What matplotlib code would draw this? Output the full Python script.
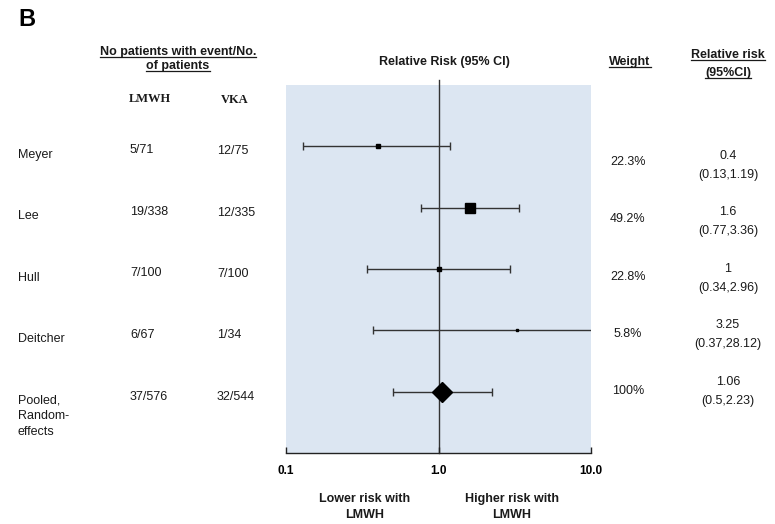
import matplotlib
matplotlib.use("Agg")
import matplotlib.pyplot as plt
from matplotlib.lines import Line2D

# data
studies = ["Meyer", "Lee", "Hull", "Deitcher", "Pooled,\nRandom-\neffects"]
lmwh_events = ["5/71", "19/338", "7/100", "6/67", "37/576"]
vka_events = ["12/75", "12/335", "7/100", "1/34", "32/544"]
rr = [0.4, 1.6, 1.0, 3.25, 1.06]
ci_low = [0.13, 0.77, 0.34, 0.37, 0.5]
ci_high = [1.19, 3.36, 2.96, 28.12, 2.23]
weights = [22.3, 49.2, 22.8, 5.8, 100]
xticks = [0.1, 1.0, 10.0]

W, H = 775, 524
FONT = "Liberation Sans"
TXT = "#1a1a1a"


def px(x, y):
    # pixel position (from top-left) -> figure fraction
    return x / W, 1 - y / H


fig = plt.figure(figsize=(W / 100, H / 100), dpi=100)
plt.rcParams["font.family"] = [FONT, "DejaVu Sans"]

# forest panel
l, b = px(286, 453)
r, t = px(591, 85)
ax = fig.add_axes([l, b, r - l, t - b])
ax.set_facecolor("#dce6f2")
ax.set_xscale("log")
ax.set_xlim(0.1, 10)
ax.set_ylim(5, -1)
for s in ["left", "right", "top"]:
    ax.spines[s].set_visible(False)
ax.spines["bottom"].set_color("#222222")
ax.spines["bottom"].set_linewidth(1)
ax.set_yticks([])
ax.set_xticks(xticks)
ax.set_xticklabels([f"{v:.1f}" for v in xticks], fontweight="bold", fontsize=8.5)
ax.minorticks_off()
ax.tick_params(axis="x", direction="in", length=4, width=1, pad=9, color="#222222")

ax.plot([1, 1], [5, -1.08], color="#333333", lw=1, clip_on=False, zorder=1)

n = len(studies)
for i in range(n):
    ax.errorbar(rr[i], i, xerr=[[rr[i] - ci_low[i]], [ci_high[i] - rr[i]]],
                fmt="none", ecolor="#333333", elinewidth=1, capsize=3, capthick=1, zorder=2)
    if i < n - 1:
        ax.plot(rr[i], i, marker="s", color="black",
                markersize=max(weights[i] * 0.146, 1.5), zorder=3)
    else:
        ax.plot(rr[i], i, marker="D", color="black", markersize=10.5, zorder=3)

# headers
under = []
fig.text(*px(18, 19), "B", fontsize=17, fontweight="bold", ha="left", va="center")
under.append(fig.text(*px(178, 52), "No patients with event/No.", fontsize=9,
                      fontweight="bold", ha="center", va="center", color=TXT))
under.append(fig.text(*px(178, 66), "of patients", fontsize=9,
                      fontweight="bold", ha="center", va="center", color=TXT))
fig.text(*px(150, 99), "LMWH", fontsize=9, fontweight="bold", ha="center",
         va="center", family="Liberation Serif", color=TXT)
fig.text(*px(235, 100), "VKA", fontsize=9, fontweight="bold", ha="center",
         va="center", family="Liberation Serif", color=TXT)
fig.text(*px(444, 62), "Relative Risk (95% CI)", fontsize=9, fontweight="bold",
         ha="center", va="center", color=TXT)
under.append(fig.text(*px(630, 62), "Weight", fontsize=9, fontweight="bold",
                      ha="center", va="center", color=TXT))
under.append(fig.text(*px(728, 55), "Relative risk", fontsize=9, fontweight="bold",
                      ha="center", va="center", color=TXT))
under.append(fig.text(*px(728, 73), "(95%CI)", fontsize=9, fontweight="bold",
                      ha="center", va="center", color=TXT))

# left table
for i in range(n):
    fig.text(*px(18, 149 + 61.3 * i), studies[i], fontsize=9, ha="left", va="top",
             color=TXT, linespacing=1.42)
    fig.text(*px(130, 150 + 61.7 * i), lmwh_events[i], fontsize=9, ha="left",
             va="center", color=TXT)
    fig.text(*px(217, 151 + 61.5 * i), vka_events[i], fontsize=9, ha="left",
             va="center", color=TXT)

# right table
for i in range(n):
    fig.text(*px(628, 162 + 57.3 * i), f"{weights[i]:g}%", fontsize=9,
             ha="center", va="center", color=TXT)
    fig.text(*px(728, 156 + 56.4 * i), f"{rr[i]:g}", fontsize=9,
             ha="center", va="center", color=TXT)
    fig.text(*px(728, 175 + 56.4 * i), f"({ci_low[i]:g},{ci_high[i]:g})",
             fontsize=9, ha="center", va="center", color=TXT)

# bottom labels
fig.text(*px(365, 507), "Lower risk with\nLMWH", fontsize=9, fontweight="bold",
         ha="center", va="center", color=TXT, linespacing=1.45)
fig.text(*px(512, 507), "Higher risk with\nLMWH", fontsize=9, fontweight="bold",
         ha="center", va="center", color=TXT, linespacing=1.45)

# underline the column headers
fig.canvas.draw()
rend = fig.canvas.get_renderer()
for txt in under:
    bb = txt.get_window_extent(rend)
    x0, x1 = bb.x0 / W, bb.x1 / W
    y = (bb.y0 + 1) / H
    fig.add_artist(Line2D([x0, x1], [y, y], transform=fig.transFigure,
                          color=TXT, lw=0.9))

fig.savefig("out.png", dpi=100)
